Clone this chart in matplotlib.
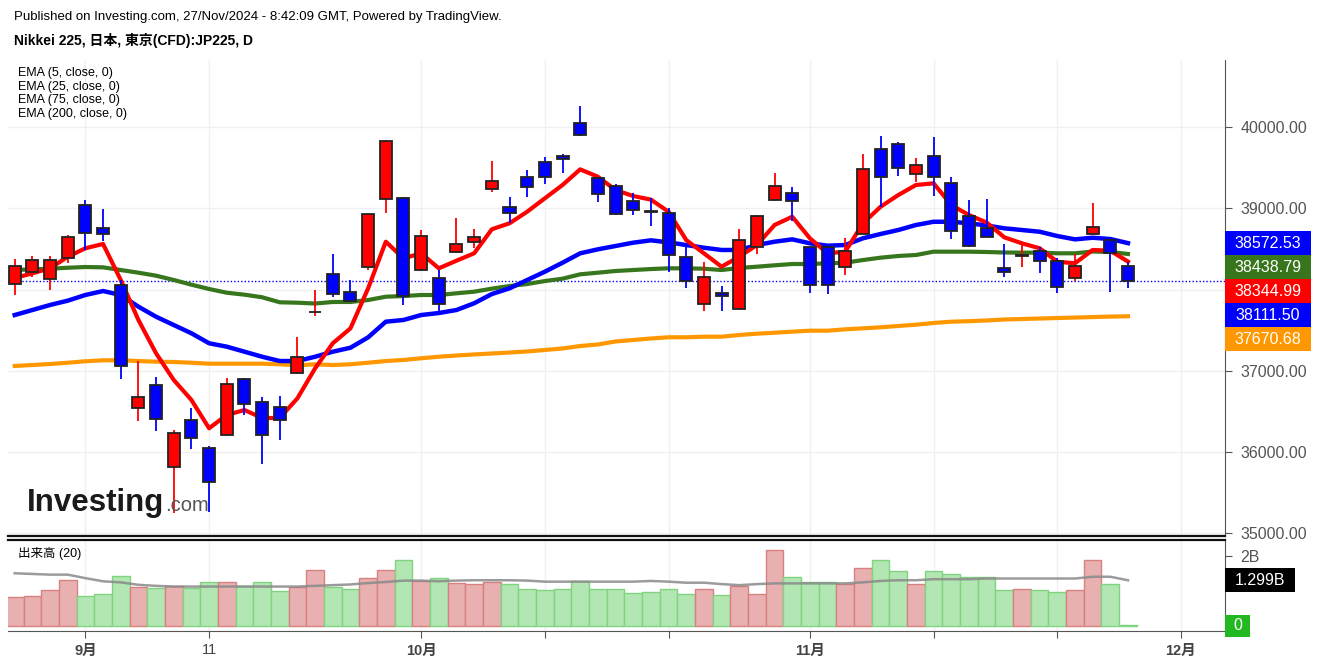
import numpy as np
import matplotlib
matplotlib.use("Agg")
import matplotlib.pyplot as plt
from matplotlib.patches import Rectangle

plt.rcParams['font.family'] = ['Liberation Sans', 'Noto Sans CJK JP']

# daily candles, Nikkei 225 CFD, 27 Aug - 27 Nov 2024 (trading days)
opens = [38072, 38220, 38126, 38385, 39039, 38755, 38052, 36536, 36820, 35817,
         36392, 36043, 36204, 36894, 36618, 36556, 36968, 37718, 38188, 37966,
         38274, 39113, 39125, 38241, 38146, 38459, 38590, 39236, 39021, 39387,
         39572, 39646, 40053, 39371, 39276, 39092, 38965, 38940, 38405, 37818,
         37961, 37757, 38528, 39104, 39186, 38521, 38530, 38282, 38685, 39736,
         39794, 39424, 39646, 39317, 38907, 38755, 38262, 38412, 38479, 38352,
         38146, 38685, 38611, 38294]
highs = [38377, 38414, 38414, 38672, 39104, 38989, 38118, 37119, 36918, 36269,
         36544, 36075, 36914, 36910, 36679, 36692, 37415, 37991, 38435, 38118,
         38935, 39844, 39140, 38734, 38241, 38878, 38746, 39585, 39137, 39470,
         39634, 39671, 40263, 39385, 39297, 39186, 39132, 39002, 38528, 38336,
         38044, 38746, 38915, 39433, 39260, 38530, 38540, 38632, 39671, 39893,
         39819, 39618, 39877, 39391, 39104, 39116, 38562, 38549, 38521, 38393,
         38435, 39063, 38620, 38343]
lows = [37933, 38159, 37995, 38324, 38488, 38599, 36898, 36384, 36257, 35250,
        36035, 35260, 36190, 36454, 35850, 36146, 36960, 37674, 37912, 37850,
        38241, 38940, 37810, 38230, 37727, 38450, 38516, 39206, 38824, 39137,
        39305, 39440, 39890, 39083, 38920, 38919, 38787, 38220, 38015, 37736,
        37736, 37750, 38435, 39095, 38845, 37954, 37950, 38179, 38680, 39021,
        39400, 39329, 39157, 38623, 38530, 38645, 38159, 38274, 38200, 37954,
        38106, 38680, 37965, 38015]
closes = [38294, 38368, 38368, 38648, 38701, 38685, 37058, 36672, 36404, 36228,
          36167, 35628, 36836, 36593, 36204, 36392, 37169, 37725, 37942, 37863,
          38928, 39831, 37924, 38664, 37818, 38558, 38652, 39338, 38940, 39268,
          39384, 39606, 39901, 39182, 38928, 38981, 38955, 38426, 38109, 38151,
          37924, 38611, 38907, 39276, 39092, 38056, 38060, 38479, 39482, 39384,
          39495, 39535, 39384, 38722, 38537, 38652, 38220, 38420, 38352, 38035,
          38294, 38775, 38447, 38111.50]

ema5 = [38142, 38200, 38262, 38405, 38509, 38562, 38118, 37625, 37214, 36885,
        36639, 36290, 36454, 36515, 36417, 36417, 36660, 37029, 37338, 37522,
        38015, 38590, 38385, 38447, 38262, 38356, 38447, 38743, 38817, 38960,
        39125, 39289, 39482, 39391, 39227, 39153, 39109, 38960, 38611, 38447,
        38282, 38405, 38549, 38796, 38898, 38632, 38447, 38467, 38817, 39021,
        39165, 39289, 39310, 39042, 38919, 38827, 38644, 38570, 38509, 38343,
        38324, 38488, 38479, 38344.99]
ema25 = [37686, 37748, 37810, 37863, 37933, 37982, 37933, 37789, 37665, 37563,
         37461, 37338, 37296, 37234, 37172, 37119, 37119, 37172, 37234, 37283,
         37411, 37604, 37625, 37686, 37711, 37748, 37831, 37945, 38015, 38118,
         38220, 38331, 38447, 38496, 38537, 38578, 38607, 38582, 38549, 38516,
         38488, 38488, 38549, 38590, 38619, 38570, 38541, 38549, 38632, 38685,
         38734, 38796, 38836, 38836, 38817, 38790, 38755, 38734, 38713, 38660,
         38619, 38639, 38623, 38572.53]
ema75 = [38241, 38250, 38257, 38269, 38278, 38274, 38241, 38208, 38171, 38118,
         38060, 38007, 37961, 37937, 37905, 37843, 37838, 37828, 37847, 37847,
         37871, 37912, 37920, 37933, 37933, 37954, 37974, 38011, 38044, 38068,
         38105, 38134, 38188, 38208, 38229, 38241, 38253, 38262, 38262, 38257,
         38241, 38266, 38282, 38299, 38315, 38315, 38324, 38331, 38364, 38393,
         38414, 38426, 38467, 38467, 38467, 38463, 38457, 38455, 38455, 38447,
         38447, 38469, 38463, 38438.79]
ema200 = [37058, 37070, 37082, 37098, 37116, 37128, 37128, 37119, 37111, 37107,
          37098, 37086, 37086, 37086, 37086, 37079, 37066, 37079, 37070, 37079,
          37098, 37119, 37132, 37153, 37172, 37187, 37200, 37212, 37224, 37237,
          37255, 37274, 37304, 37323, 37360, 37378, 37397, 37412, 37412, 37419,
          37419, 37440, 37456, 37468, 37481, 37493, 37493, 37510, 37522, 37535,
          37551, 37567, 37588, 37604, 37610, 37619, 37631, 37637, 37643, 37649,
          37655, 37661, 37667, 37670.68]

# volume in billions and its 20-day average
volumes = [0.81, 0.85, 1.02, 1.31, 0.85, 0.90, 1.41, 1.11, 1.09, 1.15,
           1.09, 1.24, 1.24, 1.14, 1.24, 0.98, 1.10, 1.58, 1.10, 1.06,
           1.36, 1.58, 1.88, 1.28, 1.36, 1.23, 1.20, 1.24, 1.19, 1.06,
           1.02, 1.06, 1.28, 1.06, 1.06, 0.93, 0.97, 1.05, 0.92, 1.05,
           0.88, 1.13, 0.92, 2.16, 1.39, 1.26, 1.26, 1.18, 1.65, 1.87,
           1.57, 1.18, 1.57, 1.49, 1.39, 1.40, 1.01, 1.05, 1.01, 0.96,
           1.01, 1.87, 1.18, 0.01]
vol_ma = [1.50, 1.48, 1.46, 1.46, 1.36, 1.27, 1.24, 1.17, 1.14, 1.12,
          1.12, 1.12, 1.12, 1.12, 1.12, 1.12, 1.12, 1.14, 1.16, 1.18,
          1.22, 1.25, 1.29, 1.29, 1.27, 1.29, 1.30, 1.30, 1.30, 1.29,
          1.26, 1.26, 1.26, 1.26, 1.26, 1.26, 1.28, 1.26, 1.23, 1.23,
          1.19, 1.16, 1.19, 1.21, 1.21, 1.21, 1.21, 1.21, 1.24, 1.28,
          1.30, 1.30, 1.33, 1.33, 1.33, 1.35, 1.35, 1.35, 1.35, 1.35,
          1.35, 1.40, 1.40, 1.299]

tick_pos = [4, 11, 23, 30, 37, 45, 52, 59, 66]
tick_labels = ['9月', '11', '10月', '', '', '11月', '', '', '12月']
price_ticks = [35000, 36000, 37000, 38000, 39000, 40000]

W, H = 1318, 665
def fx(px):
    return px / W
def fy(py):
    return 1 - py / H

fig = plt.figure(figsize=(W / 100, H / 100), dpi=100)
ax = fig.add_axes([fx(8), fy(536), fx(1225) - fx(8), fy(60) - fy(536)])
axv = fig.add_axes([fx(8), fy(631), fx(1225) - fx(8), fy(540) - fy(631)])

x = np.arange(len(closes))
o = np.array(opens); c = np.array(closes)
up = c >= o

# gridlines
for t in tick_pos:
    ax.axvline(t, color='#f0f0f0', lw=1, zorder=0)
    axv.axvline(t, color='#f0f0f0', lw=1, zorder=0)
for p in price_ticks:
    ax.axhline(p, color='#f0f0f0', lw=1, zorder=0)

# EMA lines
ax.plot(x, ema200, color='#ff9800', lw=3, zorder=2, solid_joinstyle='round')
ax.plot(x, ema75, color='#38761d', lw=3, zorder=2, solid_joinstyle='round')
ax.plot(x, ema25, color='#0000ff', lw=3.2, zorder=2, solid_joinstyle='round')
ax.plot(x, ema5, color='#ff0000', lw=3, zorder=2, solid_joinstyle='round')

# last price line
ax.axhline(closes[-1], color='#0000ff', lw=1, ls=(0, (1, 1.5)), zorder=1)

# candles
bw = 0.68
for i in range(len(x)):
    col = '#ff0000' if up[i] else '#0000ff'
    ax.vlines(x[i], lows[i], highs[i], color=col, lw=1.3, zorder=3)
    bottom = min(opens[i], closes[i])
    h = abs(closes[i] - opens[i])
    ax.add_patch(Rectangle((x[i] - bw / 2, bottom), bw, h, facecolor=col,
                           edgecolor='#222222', lw=1.3, zorder=4))

ax.set_xlim(-0.38, 68.49)
ax.set_ylim(34962, 40830)
ax.yaxis.tick_right()
ax.set_yticks(price_ticks)
# the 38000 label sits under the value boxes in the original
ax.set_yticklabels(['' if p == 38000 else '%.2f' % p for p in price_ticks])
ax.tick_params(axis='y', length=5, color='#555555', labelcolor='#555555',
               labelsize=11.5, pad=6)
ax.set_xticks([])
for s in ['left', 'top']:
    ax.spines[s].set_visible(False)
ax.spines['right'].set_color('#555555')
ax.spines['bottom'].set_color('#111111')
ax.spines['bottom'].set_linewidth(1.6)

# volume panel
vcol = ['#e8b0b0' if u else '#b2e6b2' for u in up]
vedge = ['#d98080' if u else '#80d480' for u in up]
axv.bar(x, volumes, width=1.0, color=vcol, edgecolor=vedge, lw=1, zorder=2)
axv.plot(x, vol_ma, color='#8a8a8a', lw=1.8, alpha=0.85, zorder=3)
axv.set_xlim(-0.38, 68.49)
axv.set_ylim(-0.15, 2.45)
axv.yaxis.tick_right()
axv.set_yticks([0, vol_ma[-1], 2])
axv.set_yticklabels(['', '', '2B'])
axv.tick_params(axis='y', length=5, color='#555555', labelcolor='#555555',
                labelsize=11.5, pad=6)
axv.set_xticks(tick_pos)
axv.set_xticklabels(tick_labels)
axv.tick_params(axis='x', length=5, color='#555555', labelcolor='#444444',
                labelsize=10.5, pad=4)
for lab in axv.get_xticklabels():
    if '月' in lab.get_text():
        lab.set_fontweight('bold')
axv.spines['left'].set_visible(False)
axv.spines['top'].set_color('#111111')
axv.spines['top'].set_linewidth(1.6)
axv.spines['right'].set_color('#555555')
axv.spines['bottom'].set_color('#555555')

# value labels on the right price scale, stacked like the original
fig.canvas.draw()
last_vals = [(ema25[-1], '#0000ff'), (ema75[-1], '#38761d'), (ema5[-1], '#ff0000'),
             (closes[-1], '#0000ff'), (ema200[-1], '#ff9800')]
last_vals.sort(key=lambda v: -v[0])
box_h = 24
prev = None
for val, col in last_vals:
    ypix = H - ax.transData.transform((0, val))[1]
    if prev is not None and ypix < prev + box_h:
        ypix = prev + box_h
    prev = ypix
    fig.add_artist(Rectangle((fx(1225), fy(ypix + box_h / 2)), fx(86), box_h / H,
                             transform=fig.transFigure, facecolor=col, edgecolor='none'))
    fig.text(fx(1268), fy(ypix), '%.2f' % val, color='white', fontsize=11.5,
             ha='center', va='center')

# volume labels
ypix = H - axv.transData.transform((0, vol_ma[-1]))[1]
fig.add_artist(Rectangle((fx(1225), fy(ypix + 12)), fx(70), 24 / H,
                         transform=fig.transFigure, facecolor='black', edgecolor='none'))
fig.text(fx(1260), fy(ypix), '%.3fB' % vol_ma[-1], color='white', fontsize=11.5,
         ha='center', va='center')
ypix = H - axv.transData.transform((0, 0))[1]
fig.add_artist(Rectangle((fx(1225), fy(ypix + 11)), fx(25), 22 / H,
                         transform=fig.transFigure, facecolor='#22b822', edgecolor='none'))
fig.text(fx(1238), fy(ypix), '0', color='white', fontsize=11.5, ha='center', va='center')

# texts
fig.text(fx(14), fy(17), 'Published on Investing.com, 27/Nov/2024 - 8:42:09 GMT, Powered by TradingView.',
         fontsize=9.5, va='center')
fig.text(fx(14), fy(40), 'Nikkei 225, 日本, 東京(CFD):JP225, D', fontsize=10,
         fontweight='bold', va='center')
for k, name in enumerate(['EMA (5, close, 0)', 'EMA (25, close, 0)',
                          'EMA (75, close, 0)', 'EMA (200, close, 0)']):
    fig.text(fx(18), fy(73 + k * 13.7), name, fontsize=9, va='center')
fig.text(fx(18), fy(554), '出来高 (20)', fontsize=9, va='center')

fig.text(fx(27), fy(511), 'Investing', fontsize=22.5, fontweight='bold',
         color='#1a1a1a', va='baseline')
fig.text(fx(165), fy(511), '.com', fontsize=14.5, color='#555555', va='baseline')

fig.savefig('out.png', dpi=100)
